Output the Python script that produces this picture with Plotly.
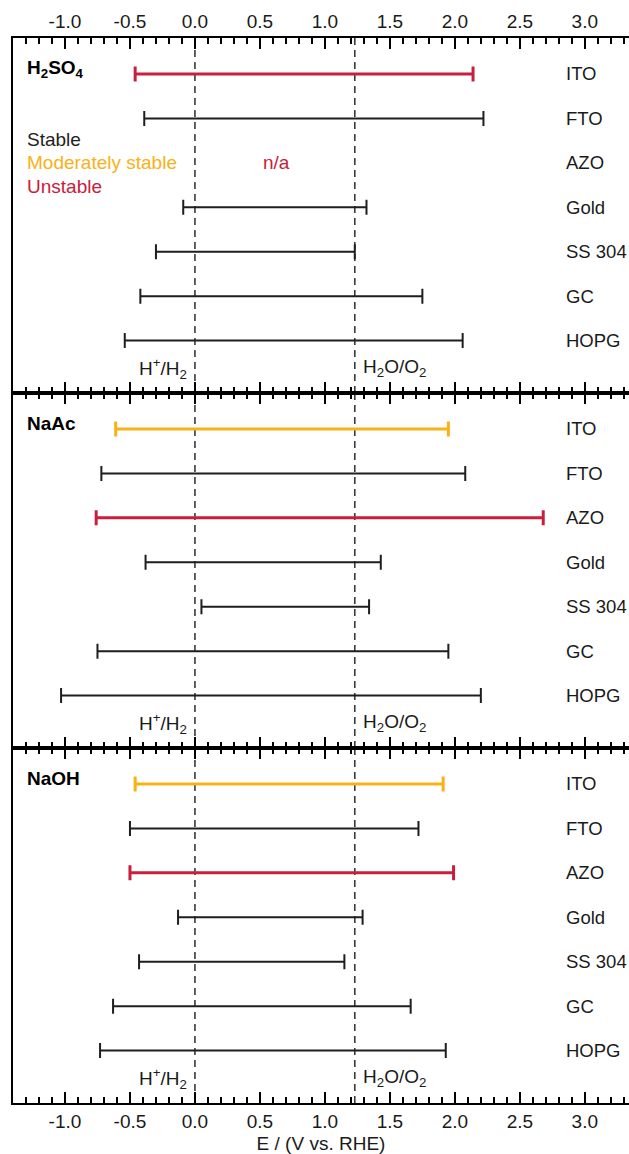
import plotly.graph_objects as go

# ---------------- data ----------------
materials = ["ITO", "FTO", "AZO", "Gold", "SS 304", "GC", "HOPG"]
electrolytes = ["H<sub>2</sub>SO<sub>4</sub>", "NaAc", "NaOH"]

h2so4_low = [-0.46, -0.39, None, -0.09, -0.30, -0.42, -0.54]
h2so4_high = [2.14, 2.22, None, 1.32, 1.23, 1.75, 2.06]
h2so4_status = ["unstable", "stable", "na", "stable", "stable", "stable", "stable"]

naac_low = [-0.61, -0.72, -0.76, -0.38, 0.05, -0.75, -1.03]
naac_high = [1.95, 2.08, 2.68, 1.43, 1.34, 1.95, 2.20]
naac_status = ["moderate", "stable", "unstable", "stable", "stable", "stable", "stable"]

naoh_low = [-0.46, -0.50, -0.50, -0.13, -0.43, -0.63, -0.73]
naoh_high = [1.91, 1.72, 1.99, 1.29, 1.15, 1.66, 1.93]
naoh_status = ["moderate", "stable", "unstable", "stable", "stable", "stable", "stable"]

ref_potentials = [0.0, 1.23]
ref_labels = ["H<sup>+</sup>/H<sub>2</sub>", "H<sub>2</sub>O/O<sub>2</sub>"]

tick_vals = [-1.0, -0.5, 0.0, 0.5, 1.0, 1.5, 2.0, 2.5, 3.0]
tick_text = ["-1.0", "-0.5", "0.0", "0.5", "1.0", "1.5", "2.0", "2.5", "3.0"]

legend_labels = ["Stable", "Moderately stable", "Unstable"]

# ---------------- styles ----------------
FONT = "Liberation Sans, Arial, Helvetica, sans-serif"
FS = 19
colors = {"stable": "#1e1e1e", "moderate": "#F9B118", "unstable": "#C8203C"}
widths = {"stable": 2, "moderate": 3, "unstable": 3}
XR = [-1.4, 3.34]
YR = [7.18, -0.81]

panels = [
    (h2so4_low, h2so4_high, h2so4_status),
    (naac_low, naac_high, naac_status),
    (naoh_low, naoh_high, naoh_status),
]

fig = go.Figure()
annotations = []
shapes = []
third = 1.0 / 3.0
domains = [[2 * third, 1.0], [third, 2 * third], [0.0, third]]

for p, (low, high, status) in enumerate(panels):
    xa = "x" if p == 0 else f"x{p+1}"
    ya = "y" if p == 0 else f"y{p+1}"
    for st in ["stable", "moderate", "unstable"]:
        xs, ys, plus, minus = [], [], [], []
        for i, m in enumerate(materials):
            if status[i] != st or low[i] is None:
                continue
            mid = (low[i] + high[i]) / 2
            xs.append(mid)
            ys.append(i)
            plus.append(high[i] - mid)
            minus.append(mid - low[i])
        if not xs:
            continue
        fig.add_trace(go.Scatter(
            x=xs, y=ys, xaxis=xa, yaxis=ya, mode="markers",
            marker=dict(size=1, color="rgba(0,0,0,0)"),
            error_x=dict(type="data", symmetric=False, array=plus, arrayminus=minus,
                         color=colors[st], thickness=widths[st], width=7.5),
            showlegend=False, hoverinfo="skip"))
    # reference dashed lines
    for rp in ref_potentials:
        shapes.append(dict(type="line", xref=xa, yref=ya + " domain", x0=rp, x1=rp, y0=0, y1=1,
                           line=dict(color="#3a3a3a", width=1.6, dash="7px,5px"), layer="below"))
    # material labels
    for i, m in enumerate(materials):
        annotations.append(dict(x=2.862, y=i, xref=xa, yref=ya, text=m, showarrow=False,
                                xanchor="left", yanchor="middle", xshift=-3,
                                font=dict(family=FONT, size=18.5, color="#1a1a1a")))
    # electrolyte title
    annotations.append(dict(x=-1.29, y=-0.12, xref=xa, yref=ya, text=f"<b>{electrolytes[p]}</b>",
                            showarrow=False, xanchor="left", yanchor="middle", xshift=-2,
                            font=dict(family=FONT, size=FS, color="#000000")))
    # reference labels
    annotations.append(dict(x=ref_potentials[0], y=6.62, xref=xa, yref=ya, text=ref_labels[0],
                            showarrow=False, xanchor="right", yanchor="middle", xshift=-6,
                            font=dict(family=FONT, size=FS, color="#1a1a1a")))
    annotations.append(dict(x=ref_potentials[1], y=6.62, xref=xa, yref=ya, text=ref_labels[1],
                            showarrow=False, xanchor="left", yanchor="middle", xshift=6,
                            font=dict(family=FONT, size=FS, color="#1a1a1a")))

    xaxis = dict(range=XR, domain=[0, 1], anchor=ya, showline=True, linewidth=2, linecolor="#000",
                 mirror="ticks", ticks="inside", ticklen=11, tickwidth=2, tickcolor="#000",
                 tickvals=tick_vals, ticktext=tick_text,
                 minor=dict(dtick=0.1, tick0=0, ticks="inside", ticklen=6, tickwidth=2, tickcolor="#000"),
                 showgrid=False, zeroline=False,
                 tickfont=dict(family=FONT, size=FS, color="#1a1a1a"))
    if p == 0:
        xaxis.update(side="top", showticklabels=True)
    elif p == 1:
        xaxis.update(side="bottom", showticklabels=False)
    else:
        xaxis.update(side="bottom", showticklabels=True,
                     title=dict(text="E / (V vs. RHE)", standoff=6,
                                font=dict(family=FONT, size=FS, color="#1a1a1a")))
    if p > 0:
        xaxis["matches"] = "x"
    yaxis = dict(range=YR, domain=domains[p], anchor=xa, showline=True, linewidth=2, linecolor="#000",
                 showticklabels=False, ticks="", showgrid=False, zeroline=False)
    fig.layout[("xaxis" if p == 0 else f"xaxis{p+1}")] = xaxis
    fig.layout[("yaxis" if p == 0 else f"yaxis{p+1}")] = yaxis

# stability legend + n/a
legend_colors = [colors["stable"], colors["moderate"], colors["unstable"]]
legend_y = [1.47, 2.0, 2.53]
for lab, c, yy in zip(legend_labels, legend_colors, legend_y):
    annotations.append(dict(x=-1.29, y=yy, xref="x", yref="y", text=lab, showarrow=False,
                            xanchor="left", yanchor="middle", xshift=-2,
                            font=dict(family=FONT, size=FS, color=c)))
annotations.append(dict(x=0.63, y=2.0, xref="x", yref="y", text="n/a", showarrow=False,
                        xanchor="center", yanchor="middle",
                        font=dict(family=FONT, size=FS, color=colors["unstable"])))

fig.update_layout(width=629, height=1154, margin=dict(l=13, r=0, t=38, b=51),
                  paper_bgcolor="white", plot_bgcolor="white",
                  annotations=annotations, shapes=shapes, showlegend=False,
                  font=dict(family=FONT, size=FS, color="#1a1a1a"))

fig.write_html("out.html")
